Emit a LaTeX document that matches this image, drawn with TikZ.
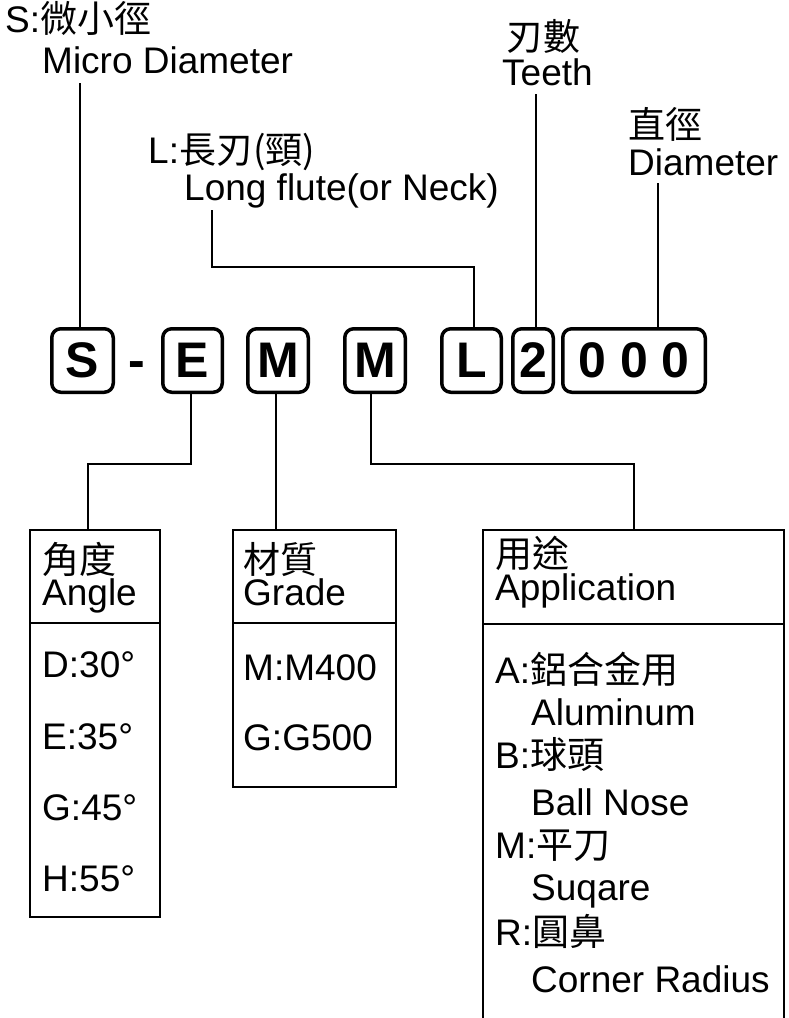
\documentclass[tikz,border=0pt]{standalone}
\usepackage{fontspec}
\setmainfont{Liberation Sans}
\newfontfamily\cjk{Noto Sans CJK TC}
\begin{document}
\begin{tikzpicture}[x=1pt,y=-1pt,
  lbl/.style={anchor=base west,inner sep=0pt,font=\fontsize{37}{41}\selectfont},
  codebox/.style={draw,line width=3.5pt,rounded corners=9pt,minimum height=63.5pt,inner sep=0pt,font=\fontsize{50}{50}\selectfont\bfseries},
  tabbox/.style={draw,line width=1.6pt,inner sep=0pt},
  conn/.style={line width=1.3pt}]
\useasboundingbox (0,0) rectangle (788,1018);
% code boxes
\node[codebox,minimum width=61.5pt] (S) at (82.5,360.5) {S};
\node[anchor=base,inner sep=0pt,font=\fontsize{50}{50}\selectfont\bfseries] (dash) at (137,377) {-};
\node[codebox,minimum width=59.5pt] (E) at (192.5,360.5) {E};
\node[codebox,minimum width=60.5pt] (M1) at (278,360.5) {M};
\node[codebox,minimum width=60.5pt] (M2) at (375,360.5) {M};
\node[codebox,minimum width=59.5pt] (L) at (471.5,360.5) {L};
\node[codebox,minimum width=40.5pt] (two) at (533,360.5) {2};
\node[codebox,minimum width=142.5pt] (zeros) at (634,360.5) {0 0 0};
% top labels
\node[lbl] (s1) at (5,32) {S:{\cjk 微小徑}};
\node[lbl] (s2) at (42,73) {Micro Diameter};
\node[lbl] (l1) at (148,163) {L:{\cjk 長刃(頸)}};
\node[lbl] (l2) at (184,200) {Long flute(or Neck)};
\node[lbl] (t1) at (506,50) {\cjk 刃數};
\node[lbl] (t2) at (502,85) {Teeth};
\node[lbl] (d1) at (628,138) {\cjk 直徑};
\node[lbl] (d2) at (628,175) {Diameter};
% top connectors
\coordinate (sT) at (80,83);
\coordinate (lT) at (212,210);
\coordinate (lC) at (474,267);
\coordinate (tT) at (536,94);
\coordinate (dT) at (658,183);
\draw[conn] (sT) -- (sT |- S.north);
\draw[conn] (lT) |- (lC) -- (lC |- L.north);
\draw[conn] (tT) -- (tT |- two.north);
\draw[conn] (dT) -- (dT |- zeros.north);
% table boxes
\node[tabbox,minimum width=130pt,minimum height=387pt] (angle) at (95,723.5) {};
\node[tabbox,minimum width=163pt,minimum height=257pt] (grade) at (314.5,658.5) {};
\node[tabbox,minimum width=301pt,minimum height=520pt] (app) at (633.5,790) {};
\draw[line width=1.6pt] (30,623) -- (160,623);
\draw[line width=1.6pt] (233,623) -- (396,623);
\draw[line width=1.6pt] (483,624) -- (784,624);
% bottom connectors
\coordinate (eC) at (88,464);
\coordinate (aC) at (634,464);
\draw[conn] ([xshift=-1.5pt]E.south) |- (eC) -- (eC |- angle.north);
\draw[conn] ([xshift=-2pt]M1.south) -- ([xshift=-2pt]M1.south |- grade.north);
\draw[conn] ([xshift=-4pt]M2.south) |- (aC) -- (aC |- app.north);
% angle texts
\node[lbl] (a1) at (42,573) {\cjk 角度};
\node[lbl] (a2) at (42,605) {Angle};
\node[lbl] (a3) at (42,677) {D:30°};
\node[lbl] (a4) at (42,749) {E:35°};
\node[lbl] (a5) at (42,820) {G:45°};
\node[lbl] (a6) at (42,891) {H:55°};
% grade texts
\node[lbl] (g1) at (243,573) {\cjk 材質};
\node[lbl] (g2) at (243,605) {Grade};
\node[lbl] (g3) at (243,680) {M:M400};
\node[lbl] (g4) at (243,750) {G:G500};
% application texts
\node[lbl] (p1) at (495,567) {\cjk 用途};
\node[lbl] (p2) at (495,600) {Application};
\node[lbl] (p3) at (495,683) {A:{\cjk 鋁合金用}};
\node[lbl] (p4) at (531,725) {Aluminum};
\node[lbl] (p5) at (495,768) {B:{\cjk 球頭}};
\node[lbl] (p6) at (531,815) {Ball Nose};
\node[lbl] (p7) at (495,858) {M:{\cjk 平刀}};
\node[lbl] (p8) at (531,900) {Suqare};
\node[lbl] (p9) at (495,945) {R:{\cjk 圓鼻}};
\node[lbl] (p10) at (531,992) {Corner Radius};
\end{tikzpicture}
\end{document}
